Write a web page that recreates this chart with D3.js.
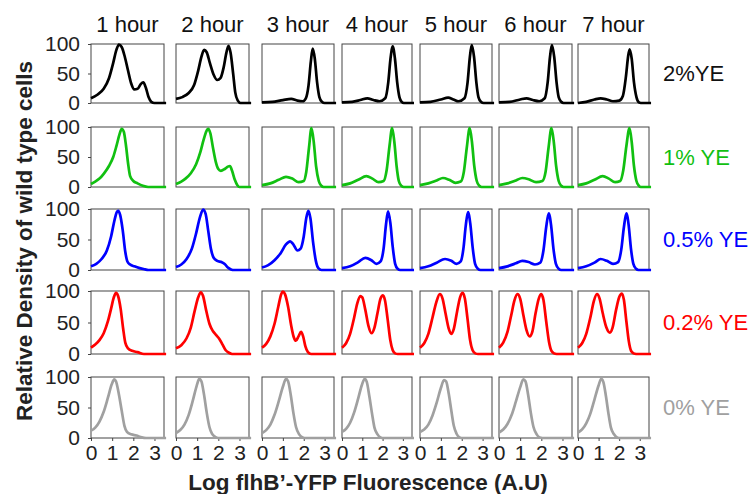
<!DOCTYPE html>
<html>
<head>
<meta charset="utf-8">
<script src="https://cdn.jsdelivr.net/npm/d3@7"></script>
<style>
  body { margin: 0; background: #fff; }
  text { font-family: "Liberation Sans", Arial, sans-serif; }
</style>
</head>
<body>
<div class="svg-container"></div>
<script>
// time points (columns) and yeast-extract conditions (rows)
const hours = ["1 hour", "2 hour", "3 hour", "4 hour", "5 hour", "6 hour", "7 hour"];
const conditions = ["2%YE", "1% YE", "0.5% YE", "0.2% YE", "0% YE"];
const xTicks = [0, 1, 2, 3];
const yTicks = [0, 50, 100];

// density curves, [log fluorescence, relative density], one list per hour
const ye2 = [
  [[0,8],[0.3,14],[0.6,24],[0.85,42],[1.05,68],[1.2,90],[1.32,99],[1.45,95],[1.6,78],[1.75,55],[1.9,33],[2.05,23],[2.2,24],[2.35,32],[2.47,35],[2.6,25],[2.72,10],[2.85,2],[3.0,0],[3.55,0]],
  [[0,7],[0.3,10],[0.6,17],[0.85,30],[1.05,55],[1.2,78],[1.33,90],[1.45,86],[1.6,68],[1.78,48],[1.95,39],[2.1,42],[2.25,60],[2.38,85],[2.48,97],[2.58,85],[2.7,50],[2.8,18],[2.92,4],[3.05,0],[3.55,0]],
  [[0,1],[0.5,2],[1.0,5],[1.4,7],[1.7,4],[1.95,3],[2.1,8],[2.23,30],[2.34,70],[2.43,92],[2.53,75],[2.64,35],[2.75,10],[2.87,2],[3.0,0],[3.55,0]],
  [[0,1],[0.5,2],[0.9,5],[1.25,8],[1.55,5],[1.85,3],[2.13,8],[2.28,35],[2.39,75],[2.5,96],[2.61,75],[2.72,35],[2.83,10],[2.94,2],[3.05,0],[3.55,0]],
  [[0,1],[0.5,2],[1.0,6],[1.35,9],[1.6,6],[1.85,3],[2.13,8],[2.28,35],[2.39,78],[2.48,98],[2.59,78],[2.7,35],[2.8,10],[2.92,2],[3.05,0],[3.55,0]],
  [[0,1],[0.5,2],[1.0,6],[1.3,8],[1.6,5],[1.9,3],[2.16,8],[2.3,35],[2.41,78],[2.5,98],[2.61,78],[2.72,35],[2.82,10],[2.94,2],[3.05,0],[3.55,0]],
  [[0,0],[0.4,2],[0.8,6],[1.1,8],[1.4,6],[1.7,3],[2.0,4],[2.18,12],[2.33,45],[2.44,80],[2.51,91],[2.61,75],[2.72,35],[2.84,10],[2.96,1],[3.05,0],[3.55,0]]
];
const ye1 = [
  [[0,5],[0.2,9],[0.4,14],[0.6,22],[0.85,35],[1.05,50],[1.2,68],[1.35,88],[1.45,97],[1.55,92],[1.65,70],[1.75,40],[1.85,18],[2.0,10],[2.2,6],[2.45,2],[2.7,0],[3.55,0]],
  [[0,5],[0.25,9],[0.45,14],[0.7,23],[0.95,38],[1.15,58],[1.3,78],[1.45,94],[1.52,97],[1.62,90],[1.75,65],[1.88,42],[2.0,30],[2.12,27],[2.3,30],[2.45,34],[2.55,35],[2.65,27],[2.78,12],[2.9,3],[3.0,0],[3.55,0]],
  [[0,3],[0.4,6],[0.8,12],[1.15,17],[1.45,14],[1.75,8],[2.0,10],[2.12,25],[2.25,65],[2.37,98],[2.48,75],[2.59,35],[2.72,10],[2.84,2],[2.95,0],[3.55,0]],
  [[0,3],[0.4,6],[0.8,12],[1.2,18],[1.5,14],[1.8,8],[2.05,10],[2.2,28],[2.34,68],[2.47,98],[2.58,75],[2.69,35],[2.8,10],[2.92,2],[3.05,0],[3.55,0]],
  [[0,3],[0.4,6],[0.8,11],[1.1,15],[1.4,12],[1.7,7],[1.95,9],[2.1,25],[2.24,65],[2.38,98],[2.49,75],[2.6,35],[2.72,10],[2.84,2],[2.95,0],[3.55,0]],
  [[0,3],[0.4,6],[0.8,11],[1.1,15],[1.4,13],[1.75,8],[2.05,10],[2.2,25],[2.34,65],[2.48,98],[2.59,75],[2.7,35],[2.82,10],[2.94,2],[3.05,0],[3.55,0]],
  [[0,3],[0.4,6],[0.8,12],[1.2,18],[1.5,14],[1.8,8],[2.05,10],[2.2,28],[2.35,68],[2.5,98],[2.61,75],[2.72,35],[2.84,10],[2.96,2],[3.05,0],[3.55,0]]
];
const ye05 = [
  [[0,6],[0.25,10],[0.5,18],[0.75,32],[0.95,55],[1.1,80],[1.22,95],[1.28,97],[1.38,90],[1.5,65],[1.62,30],[1.72,14],[1.85,9],[2.05,6],[2.3,3],[2.55,1],[2.7,0],[3.55,0]],
  [[0,5],[0.25,9],[0.5,18],[0.75,35],[0.95,60],[1.12,85],[1.28,99],[1.4,92],[1.52,65],[1.65,35],[1.78,20],[1.95,15],[2.15,13],[2.3,10],[2.45,4],[2.6,1],[2.75,0],[3.55,0]],
  [[0,4],[0.3,8],[0.6,16],[0.9,28],[1.15,42],[1.35,47],[1.5,42],[1.7,32],[1.85,35],[2.0,55],[2.12,85],[2.22,97],[2.32,85],[2.45,45],[2.58,15],[2.7,3],[2.85,0],[3.55,0]],
  [[0,3],[0.4,6],[0.8,13],[1.15,20],[1.45,16],[1.7,10],[1.9,14],[2.05,35],[2.17,75],[2.27,96],[2.38,78],[2.5,38],[2.62,10],[2.74,2],[2.87,0],[3.55,0]],
  [[0,3],[0.4,6],[0.8,12],[1.2,18],[1.5,15],[1.75,10],[1.95,14],[2.08,35],[2.19,72],[2.3,95],[2.41,76],[2.52,38],[2.64,10],[2.77,2],[2.9,0],[3.55,0]],
  [[0,3],[0.4,6],[0.8,11],[1.1,15],[1.4,13],[1.7,9],[1.95,12],[2.1,32],[2.23,70],[2.35,93],[2.46,74],[2.57,36],[2.69,10],[2.82,2],[2.94,0],[3.55,0]],
  [[0,3],[0.4,6],[0.8,12],[1.1,18],[1.4,15],[1.7,10],[1.95,13],[2.1,33],[2.23,70],[2.35,93],[2.46,74],[2.57,36],[2.69,10],[2.82,2],[2.94,0],[3.55,0]]
];
const ye02 = [
  [[0,10],[0.2,15],[0.4,22],[0.6,33],[0.8,52],[0.95,72],[1.08,90],[1.18,97],[1.28,92],[1.4,72],[1.52,40],[1.62,18],[1.75,9],[1.95,5],[2.2,3],[2.5,0],[3.55,0]],
  [[0,9],[0.25,14],[0.5,25],[0.7,42],[0.88,68],[1.05,90],[1.17,98],[1.28,92],[1.42,70],[1.58,48],[1.75,36],[1.9,30],[2.05,24],[2.2,15],[2.35,6],[2.5,2],[2.65,0],[3.55,0]],
  [[0,10],[0.2,16],[0.4,28],[0.6,48],[0.78,75],[0.92,95],[1.0,99],[1.1,95],[1.25,75],[1.4,45],[1.52,27],[1.62,21],[1.75,28],[1.87,35],[1.97,28],[2.08,12],[2.2,3],[2.35,0],[3.55,0]],
  [[0,10],[0.2,17],[0.4,32],[0.6,58],[0.75,80],[0.9,92],[1.0,90],[1.15,70],[1.3,45],[1.45,33],[1.6,42],[1.75,65],[1.9,88],[2.02,93],[2.12,85],[2.25,55],[2.38,22],[2.5,6],[2.62,1],[2.75,0],[3.55,0]],
  [[0,10],[0.2,17],[0.4,32],[0.6,58],[0.78,82],[0.95,95],[1.08,88],[1.22,65],[1.38,40],[1.5,32],[1.62,40],[1.78,68],[1.92,90],[2.05,97],[2.15,88],[2.28,55],[2.4,22],[2.52,6],[2.65,1],[2.78,0],[3.55,0]],
  [[0,10],[0.2,18],[0.4,35],[0.58,62],[0.73,85],[0.87,95],[1.0,88],[1.15,62],[1.3,38],[1.45,28],[1.58,36],[1.73,65],[1.88,88],[2.0,95],[2.1,86],[2.23,52],[2.36,20],[2.48,5],[2.6,1],[2.72,0],[3.55,0]],
  [[0,10],[0.2,17],[0.4,32],[0.6,58],[0.77,84],[0.92,95],[1.05,88],[1.2,65],[1.38,42],[1.55,34],[1.68,42],[1.85,70],[2.0,90],[2.13,96],[2.23,86],[2.35,52],[2.47,20],[2.58,5],[2.7,1],[2.82,0],[3.55,0]]
];
const ye0 = [
  [[0,12],[0.2,17],[0.4,27],[0.6,43],[0.8,66],[0.98,88],[1.1,96],[1.18,93],[1.3,75],[1.45,45],[1.58,20],[1.7,10],[1.9,6],[2.15,4],[2.4,1],[2.6,0],[3.55,0]],
  [[0,8],[0.2,13],[0.4,22],[0.6,38],[0.8,62],[0.98,86],[1.1,97],[1.2,93],[1.32,72],[1.45,42],[1.58,18],[1.7,7],[1.85,2],[2.0,0],[3.55,0]],
  [[0,8],[0.2,13],[0.4,22],[0.6,38],[0.8,60],[1.0,84],[1.15,97],[1.25,93],[1.38,70],[1.5,42],[1.63,18],[1.78,6],[1.95,1],[2.1,0],[3.55,0]],
  [[0,10],[0.2,15],[0.4,25],[0.6,42],[0.8,65],[0.98,87],[1.12,97],[1.22,92],[1.35,68],[1.48,40],[1.6,17],[1.75,6],[1.9,1],[2.05,0],[3.55,0]],
  [[0,10],[0.2,14],[0.4,22],[0.6,37],[0.8,58],[1.0,82],[1.15,95],[1.25,93],[1.38,72],[1.5,45],[1.62,20],[1.75,7],[1.9,1],[2.05,0],[3.55,0]],
  [[0,9],[0.2,14],[0.4,23],[0.6,38],[0.8,60],[1.0,83],[1.15,96],[1.25,93],[1.38,70],[1.5,42],[1.63,18],[1.78,6],[1.92,1],[2.05,0],[3.55,0]],
  [[0,9],[0.2,14],[0.4,24],[0.6,40],[0.8,63],[1.0,86],[1.13,97],[1.23,92],[1.36,68],[1.48,40],[1.6,17],[1.75,6],[1.9,1],[2.05,0],[3.55,0]]
];
const rows = [ye2, ye1, ye05, ye02, ye0];
const rowColors = ["#000000", "#11c011", "#0000ff", "#ff0000", "#a0a0a0"];

// panel layout (pixels)
const colLeft = [91, 176, 262, 342, 420, 499, 578];
const colWidth = [73, 73, 72, 70, 72, 73, 71];
const rowTop = [44, 127, 209, 291, 377];
const rowHeight = [59, 60, 61, 63, 61];

const width = 754, height = 494;
const svg = d3.select(".svg-container").append("svg")
  .attr("width", width).attr("height", height)
  .attr("viewBox", "0 0 " + width + " " + height);

rows.forEach(function (curves, r) {
  curves.forEach(function (pts, c) {
    const x = d3.scaleLinear().domain([0, 3.45]).range([0, colWidth[c]]);
    const y = d3.scaleLinear().domain([0, 100]).range([rowHeight[r], 0]);
    const g = svg.append("g")
      .attr("transform", "translate(" + colLeft[c] + "," + rowTop[r] + ")");

    g.append("rect")
      .attr("width", colWidth[c]).attr("height", rowHeight[r])
      .attr("fill", "none").attr("stroke", "#444").attr("stroke-width", 1);

    if (c === 0) {
      const ya = g.append("g").call(d3.axisLeft(y).tickValues(yTicks)
        .tickFormat(d3.format("d")).tickSize(3).tickPadding(8));
      ya.select(".domain").remove();
      ya.selectAll("line").attr("stroke", "#444");
      ya.selectAll("text").attr("font-size", "21px").attr("fill", "#222")
        .attr("font-family", "'Liberation Sans', Arial, sans-serif");
    }
    if (r === rows.length - 1) {
      const xa = g.append("g").attr("transform", "translate(0," + rowHeight[r] + ")")
        .call(d3.axisBottom(x).tickValues(xTicks)
          .tickFormat(d3.format("d")).tickSize(3).tickPadding(4));
      xa.select(".domain").remove();
      xa.selectAll("line").attr("stroke", "#444");
      xa.selectAll("text").attr("font-size", "21px").attr("fill", "#222")
        .attr("font-family", "'Liberation Sans', Arial, sans-serif");
    }

    const line = d3.line()
      .x(function (d) { return x(d[0]); })
      .y(function (d) { return y(d[1]); })
      .curve(d3.curveMonotoneX);
    g.append("path").datum(pts)
      .attr("d", line)
      .attr("fill", "none")
      .attr("stroke", rowColors[r])
      .attr("stroke-width", 2.7)
      .attr("stroke-linejoin", "round");
  });

  svg.append("text")
    .attr("x", 663).attr("y", rowTop[r] + rowHeight[r] / 2)
    .attr("dy", "0.35em")
    .attr("font-size", "22px")
    .attr("fill", rowColors[r] === "#000000" ? "#111" : rowColors[r])
    .text(conditions[r]);
});

// column titles
svg.selectAll(".hour").data(hours).enter().append("text")
  .attr("class", "hour")
  .attr("x", function (d, i) { return colLeft[i] + colWidth[i] / 2; })
  .attr("y", 32)
  .attr("text-anchor", "middle")
  .attr("font-size", "22px")
  .attr("fill", "#111")
  .text(function (d) { return d; });

// axis titles
svg.append("text")
  .attr("x", 368).attr("y", 490)
  .attr("text-anchor", "middle")
  .attr("font-size", "22.5px").attr("font-weight", "bold").attr("fill", "#222")
  .text("Log flhB\u2019-YFP Fluorescence (A.U)");

svg.append("text")
  .attr("transform", "translate(24,241) rotate(-90)")
  .attr("text-anchor", "middle")
  .attr("dy", "0.35em")
  .attr("font-size", "22.5px").attr("font-weight", "bold").attr("fill", "#222")
  .text("Relative Density of wild type cells");
</script>
</body>
</html>
